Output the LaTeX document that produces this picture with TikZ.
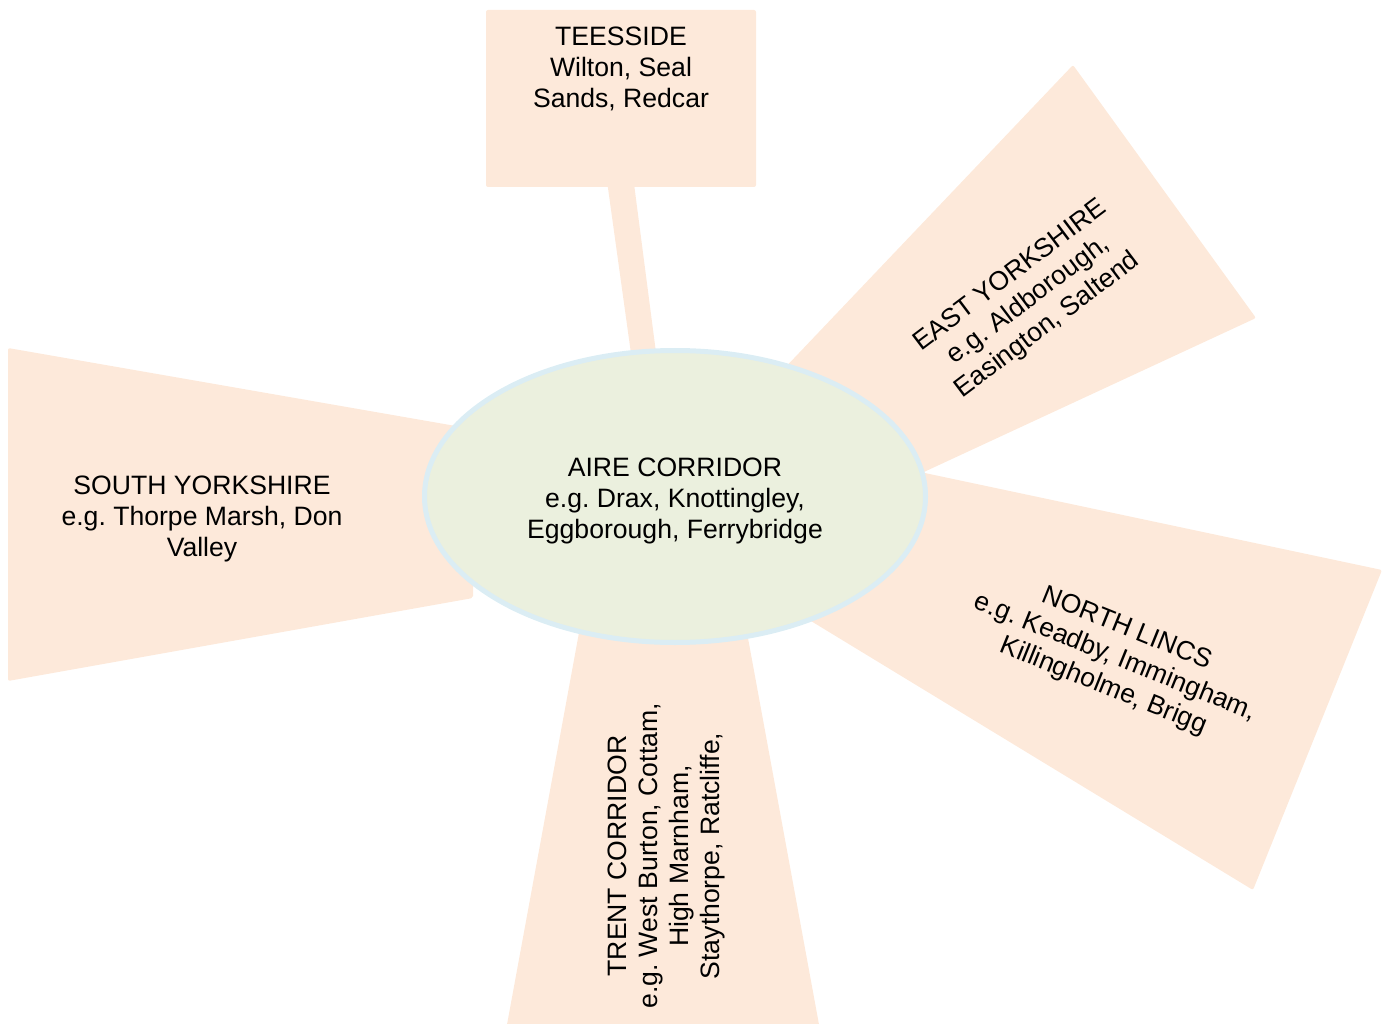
\documentclass[tikz,border=0pt]{standalone}
\usepackage{fontspec}
\setmainfont{Liberation Sans}
\usetikzlibrary{shapes.geometric}
\frenchspacing
\definecolor{peach}{RGB}{253,233,218}
\definecolor{hubfill}{RGB}{235,240,222}
\definecolor{hubline}{RGB}{219,237,244}
\tikzset{
  spoke/.style={fill=peach, rounded corners=2pt},
  lbl/.style={align=center, text=black, inner sep=0pt, font=\frenchspacing\fontsize{26.6}{31}\selectfont},
  hub/.style={ellipse, fill=hubfill, draw=hubline, line width=5pt,
    minimum width=501pt, minimum height=292pt, inner sep=0pt}
}
\begin{document}
\begin{tikzpicture}[x=1pt,y=-1pt]
\useasboundingbox (0,0) rectangle (1390,1024);
% spokes
\fill[spoke] (486,10) rectangle (756,187);
\fill[peach] (607.7,186) -- (634.3,186) -- (658,368) -- (633,368) -- cycle;
\fill[spoke] (1073,65) -- (1256,318) -- (870,497) -- (740,415) -- cycle;
\fill[spoke] (1382,570) -- (1253,890) -- (760,590) -- (840,455) -- cycle;
\fill[spoke] (585,600) -- (741,600) -- (820,1030) -- (506,1030) -- cycle;
\fill[spoke] (8,348) -- (473,429) -- (473,598) -- (8,681) -- cycle;
% hub
\node[hub] (aire) at (675,496.5) {};
\node[lbl] (airetxt) at (675,501) {AIRE CORRIDOR\\e.g. Drax, Knottingley,\\Eggborough, Ferrybridge};
% labels
\node[lbl] (tees) at (621,69) {TEESSIDE\\Wilton, Seal\\Sands, Redcar};
\node[lbl] (south) at (202,518.5) {SOUTH YORKSHIRE\\e.g. Thorpe Marsh, Don\\Valley};
\node[lbl, rotate=37] (east) at (1029,301) {EAST YORKSHIRE\\e.g. Aldborough,\\Easington, Saltend};
\node[lbl, rotate=-22] (north) at (1115,658) {NORTH LINCS\\e.g. Keadby, Immingham,\\Killingholme, Brigg};
\node[lbl, rotate=90] (trent) at (666,856) {TRENT CORRIDOR\\e.g. West Burton, Cottam,\\High Marnham,\\Staythorpe, Ratcliffe,};
\end{tikzpicture}
\end{document}
